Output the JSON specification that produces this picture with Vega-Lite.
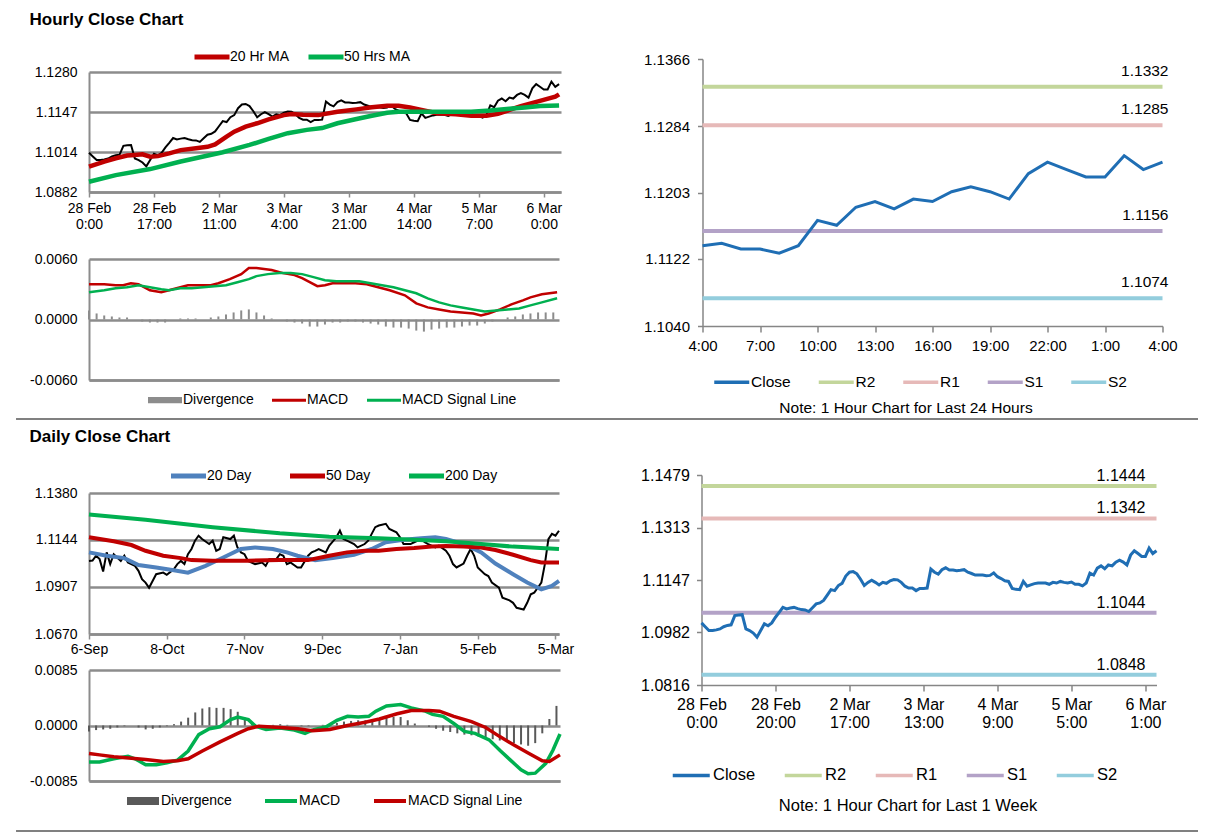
{
"$schema":"https://vega.github.io/schema/vega-lite/v6.json",
"padding":{"left":15,"top":11,"right":5,"bottom":0},
"background":"white",
"config":{"view":{"stroke":null},"font":"Liberation Sans","text":{"font":"Liberation Sans"},
"locale":{"number":{"decimal":".","thousands":",","grouping":[3],"currency":["$",""],"minus":"-"}},
"axis":{"labelFont":"Liberation Sans","labelColor":"#000000"},
"legend":{"labelFont":"Liberation Sans","labelColor":"#000000","titleFont":"Liberation Sans","padding":0,"titleLimit":600,"labelLimit":300},
"title":{"font":"Liberation Sans"}},
"datasets":{
"hc":[{"i":0,"c":1.1012},{"i":1,"c":1.1000},{"i":2,"c":1.0988},{"i":3,"c":1.0988},{"i":4,"c":1.0990},{"i":5,"c":1.0993},{"i":6,"c":1.1000},{"i":7,"c":1.1004},{"i":8,"c":1.1006},{"i":9,"c":1.1035},{"i":10,"c":1.1037},{"i":11,"c":1.1038},{"i":12,"c":1.0993},{"i":13,"c":1.0988},{"i":14,"c":1.0980},{"i":15,"c":1.0967},{"i":16,"c":1.0988},{"i":17,"c":1.1009},{"i":18,"c":1.1003},{"i":19,"c":1.1012},{"i":20,"c":1.1030},{"i":21,"c":1.1045},{"i":22,"c":1.1061},{"i":23,"c":1.1056},{"i":24,"c":1.1059},{"i":25,"c":1.1061},{"i":26,"c":1.1057},{"i":27,"c":1.1054},{"i":28,"c":1.1053},{"i":29,"c":1.1048},{"i":30,"c":1.1060},{"i":31,"c":1.1072},{"i":32,"c":1.1075},{"i":33,"c":1.1083},{"i":34,"c":1.1100},{"i":35,"c":1.1117},{"i":36,"c":1.1114},{"i":37,"c":1.1130},{"i":38,"c":1.1137},{"i":39,"c":1.1160},{"i":40,"c":1.1172},{"i":41,"c":1.1174},{"i":42,"c":1.1167},{"i":43,"c":1.1150},{"i":44,"c":1.1130},{"i":45,"c":1.1140},{"i":46,"c":1.1147},{"i":47,"c":1.1140},{"i":48,"c":1.1132},{"i":49,"c":1.1140},{"i":50,"c":1.1137},{"i":51,"c":1.1145},{"i":52,"c":1.1149},{"i":53,"c":1.1148},{"i":54,"c":1.1140},{"i":55,"c":1.1128},{"i":56,"c":1.1122},{"i":57,"c":1.1122},{"i":58,"c":1.1114},{"i":59,"c":1.1121},{"i":60,"c":1.1121},{"i":61,"c":1.1122},{"i":62,"c":1.1182},{"i":63,"c":1.1172},{"i":64,"c":1.1166},{"i":65,"c":1.1180},{"i":66,"c":1.1186},{"i":67,"c":1.1179},{"i":68,"c":1.1179},{"i":69,"c":1.1177},{"i":70,"c":1.1178},{"i":71,"c":1.1180},{"i":72,"c":1.1172},{"i":73,"c":1.1168},{"i":74,"c":1.1163},{"i":75,"c":1.1163},{"i":76,"c":1.1163},{"i":77,"c":1.1161},{"i":78,"c":1.1162},{"i":79,"c":1.1170},{"i":80,"c":1.1158},{"i":81,"c":1.1152},{"i":82,"c":1.1145},{"i":83,"c":1.1143},{"i":84,"c":1.1121},{"i":85,"c":1.1118},{"i":86,"c":1.1117},{"i":87,"c":1.1143},{"i":88,"c":1.1128},{"i":89,"c":1.1132},{"i":90,"c":1.1136},{"i":91,"c":1.1138},{"i":92,"c":1.1138},{"i":93,"c":1.1138},{"i":94,"c":1.1134},{"i":95,"c":1.1140},{"i":96,"c":1.1138},{"i":97,"c":1.1143},{"i":98,"c":1.1140},{"i":99,"c":1.1138},{"i":100,"c":1.1141},{"i":101,"c":1.1134},{"i":102,"c":1.1134},{"i":103,"c":1.1129},{"i":104,"c":1.1138},{"i":105,"c":1.1169},{"i":106,"c":1.1163},{"i":107,"c":1.1185},{"i":108,"c":1.1192},{"i":109,"c":1.1183},{"i":110,"c":1.1195},{"i":111,"c":1.1192},{"i":112,"c":1.1204},{"i":113,"c":1.1210},{"i":114,"c":1.1204},{"i":115,"c":1.1195},{"i":116,"c":1.1226},{"i":117,"c":1.1240},{"i":118,"c":1.1231},{"i":119,"c":1.1222},{"i":120,"c":1.1222},{"i":121,"c":1.1248},{"i":122,"c":1.1231},{"i":123,"c":1.1240}],
"hma":[{"i":0,"s":"20 Hr MA","v":1.0966},{"i":4,"s":"20 Hr MA","v":1.0983},{"i":7,"s":"20 Hr MA","v":1.0994},{"i":10,"s":"20 Hr MA","v":1.1003},{"i":12,"s":"20 Hr MA","v":1.1005},{"i":14,"s":"20 Hr MA","v":1.1007},{"i":16,"s":"20 Hr MA","v":1.0999},{"i":18,"s":"20 Hr MA","v":1.1001},{"i":21,"s":"20 Hr MA","v":1.1010},{"i":24,"s":"20 Hr MA","v":1.1021},{"i":28,"s":"20 Hr MA","v":1.1027},{"i":31,"s":"20 Hr MA","v":1.1032},{"i":33,"s":"20 Hr MA","v":1.1040},{"i":36,"s":"20 Hr MA","v":1.1066},{"i":38,"s":"20 Hr MA","v":1.1082},{"i":41,"s":"20 Hr MA","v":1.1099},{"i":44,"s":"20 Hr MA","v":1.1110},{"i":47,"s":"20 Hr MA","v":1.1123},{"i":51,"s":"20 Hr MA","v":1.1137},{"i":53,"s":"20 Hr MA","v":1.1141},{"i":56,"s":"20 Hr MA","v":1.1138},{"i":60,"s":"20 Hr MA","v":1.1137},{"i":65,"s":"20 Hr MA","v":1.1148},{"i":70,"s":"20 Hr MA","v":1.1156},{"i":74,"s":"20 Hr MA","v":1.1163},{"i":78,"s":"20 Hr MA","v":1.1168},{"i":81,"s":"20 Hr MA","v":1.1168},{"i":84,"s":"20 Hr MA","v":1.1162},{"i":87,"s":"20 Hr MA","v":1.1154},{"i":91,"s":"20 Hr MA","v":1.1143},{"i":96,"s":"20 Hr MA","v":1.1140},{"i":100,"s":"20 Hr MA","v":1.1135},{"i":104,"s":"20 Hr MA","v":1.1135},{"i":107,"s":"20 Hr MA","v":1.1141},{"i":110,"s":"20 Hr MA","v":1.1154},{"i":113,"s":"20 Hr MA","v":1.1167},{"i":118,"s":"20 Hr MA","v":1.1184},{"i":122,"s":"20 Hr MA","v":1.1198},{"i":123,"s":"20 Hr MA","v":1.1206},
{"i":0,"s":"50 Hrs MA","v":1.0916},{"i":7,"s":"50 Hrs MA","v":1.0938},{"i":16,"s":"50 Hrs MA","v":1.0958},{"i":24,"s":"50 Hrs MA","v":1.0983},{"i":35,"s":"50 Hrs MA","v":1.1014},{"i":42,"s":"50 Hrs MA","v":1.1038},{"i":47,"s":"50 Hrs MA","v":1.1058},{"i":52,"s":"50 Hrs MA","v":1.1077},{"i":57,"s":"50 Hrs MA","v":1.1088},{"i":61,"s":"50 Hrs MA","v":1.1094},{"i":65,"s":"50 Hrs MA","v":1.1110},{"i":70,"s":"50 Hrs MA","v":1.1124},{"i":74,"s":"50 Hrs MA","v":1.1135},{"i":78,"s":"50 Hrs MA","v":1.1145},{"i":81,"s":"50 Hrs MA","v":1.1148},{"i":90,"s":"50 Hrs MA","v":1.1148},{"i":100,"s":"50 Hrs MA","v":1.1148},{"i":105,"s":"50 Hrs MA","v":1.1152},{"i":110,"s":"50 Hrs MA","v":1.1158},{"i":114,"s":"50 Hrs MA","v":1.1162},{"i":118,"s":"50 Hrs MA","v":1.1167},{"i":123,"s":"50 Hrs MA","v":1.1169}],
"hmacd":[{"i":0,"s":"MACD","v":0.0035},{"i":4,"s":"MACD","v":0.0035},{"i":7,"s":"MACD","v":0.0034},{"i":9,"s":"MACD","v":0.0034},{"i":11,"s":"MACD","v":0.0036},{"i":13,"s":"MACD","v":0.0035},{"i":16,"s":"MACD","v":0.0029},{"i":19,"s":"MACD","v":0.0027},{"i":21,"s":"MACD","v":0.0029},{"i":24,"s":"MACD","v":0.0032},{"i":26,"s":"MACD","v":0.0034},{"i":29,"s":"MACD","v":0.0034},{"i":32,"s":"MACD","v":0.0034},{"i":34,"s":"MACD","v":0.0036},{"i":37,"s":"MACD","v":0.0040},{"i":40,"s":"MACD","v":0.0045},{"i":42,"s":"MACD","v":0.0051},{"i":44,"s":"MACD","v":0.0051},{"i":46,"s":"MACD","v":0.0050},{"i":48,"s":"MACD","v":0.0049},{"i":51,"s":"MACD","v":0.0046},{"i":54,"s":"MACD","v":0.0044},{"i":56,"s":"MACD","v":0.0041},{"i":58,"s":"MACD","v":0.0037},{"i":60,"s":"MACD","v":0.0033},{"i":62,"s":"MACD","v":0.0034},{"i":64,"s":"MACD","v":0.0036},{"i":67,"s":"MACD","v":0.0036},{"i":70,"s":"MACD","v":0.0036},{"i":73,"s":"MACD","v":0.0035},{"i":76,"s":"MACD","v":0.0032},{"i":79,"s":"MACD","v":0.0029},{"i":83,"s":"MACD","v":0.0024},{"i":86,"s":"MACD","v":0.0016},{"i":89,"s":"MACD","v":0.0012},{"i":92,"s":"MACD","v":0.0010},{"i":95,"s":"MACD","v":0.0008},{"i":98,"s":"MACD","v":0.0007},{"i":101,"s":"MACD","v":0.0006},{"i":103,"s":"MACD","v":0.0004},{"i":105,"s":"MACD","v":0.0006},{"i":108,"s":"MACD","v":0.0010},{"i":111,"s":"MACD","v":0.0015},{"i":114,"s":"MACD","v":0.0019},{"i":116,"s":"MACD","v":0.0022},{"i":119,"s":"MACD","v":0.0025},{"i":123,"s":"MACD","v":0.0027},
{"i":0,"s":"MACD Signal Line","v":0.0027},{"i":4,"s":"MACD Signal Line","v":0.0029},{"i":7,"s":"MACD Signal Line","v":0.0031},{"i":10,"s":"MACD Signal Line","v":0.0032},{"i":13,"s":"MACD Signal Line","v":0.0034},{"i":16,"s":"MACD Signal Line","v":0.0032},{"i":19,"s":"MACD Signal Line","v":0.0030},{"i":21,"s":"MACD Signal Line","v":0.0029},{"i":24,"s":"MACD Signal Line","v":0.0031},{"i":27,"s":"MACD Signal Line","v":0.0031},{"i":30,"s":"MACD Signal Line","v":0.0032},{"i":33,"s":"MACD Signal Line","v":0.0033},{"i":36,"s":"MACD Signal Line","v":0.0034},{"i":39,"s":"MACD Signal Line","v":0.0037},{"i":42,"s":"MACD Signal Line","v":0.0040},{"i":44,"s":"MACD Signal Line","v":0.0043},{"i":47,"s":"MACD Signal Line","v":0.0045},{"i":50,"s":"MACD Signal Line","v":0.0046},{"i":53,"s":"MACD Signal Line","v":0.0046},{"i":56,"s":"MACD Signal Line","v":0.0045},{"i":59,"s":"MACD Signal Line","v":0.0042},{"i":62,"s":"MACD Signal Line","v":0.0039},{"i":65,"s":"MACD Signal Line","v":0.0038},{"i":68,"s":"MACD Signal Line","v":0.0038},{"i":71,"s":"MACD Signal Line","v":0.0038},{"i":74,"s":"MACD Signal Line","v":0.0036},{"i":77,"s":"MACD Signal Line","v":0.0034},{"i":80,"s":"MACD Signal Line","v":0.0032},{"i":83,"s":"MACD Signal Line","v":0.0029},{"i":86,"s":"MACD Signal Line","v":0.0026},{"i":89,"s":"MACD Signal Line","v":0.0021},{"i":92,"s":"MACD Signal Line","v":0.0017},{"i":95,"s":"MACD Signal Line","v":0.0014},{"i":98,"s":"MACD Signal Line","v":0.0012},{"i":101,"s":"MACD Signal Line","v":0.0010},{"i":104,"s":"MACD Signal Line","v":0.0008},{"i":107,"s":"MACD Signal Line","v":0.0009},{"i":110,"s":"MACD Signal Line","v":0.0010},{"i":113,"s":"MACD Signal Line","v":0.0011},{"i":116,"s":"MACD Signal Line","v":0.0014},{"i":119,"s":"MACD Signal Line","v":0.0017},{"i":123,"s":"MACD Signal Line","v":0.0021}],
"hdiv":[{"i":0,"d":0.0009},{"i":2,"d":0.0006},{"i":4,"d":0.0004},{"i":6,"d":0.0003},{"i":8,"d":0.0002},{"i":10,"d":0.0002},{"i":12,"d":0.0},{"i":14,"d":-0.0002},{"i":16,"d":-0.0003},{"i":18,"d":-0.0003},{"i":20,"d":-0.0003},{"i":22,"d":0.0},{"i":24,"d":0.0001},{"i":26,"d":0.0001},{"i":28,"d":0.0001},{"i":30,"d":0.0},{"i":32,"d":0.0002},{"i":34,"d":0.0003},{"i":36,"d":0.0005},{"i":38,"d":0.0007},{"i":40,"d":0.0009},{"i":42,"d":0.0010},{"i":44,"d":0.0007},{"i":46,"d":0.0004},{"i":48,"d":0.0001},{"i":50,"d":0.0},{"i":52,"d":-0.0002},{"i":54,"d":-0.0003},{"i":56,"d":-0.0004},{"i":58,"d":-0.0007},{"i":60,"d":-0.0007},{"i":62,"d":-0.0005},{"i":64,"d":-0.0003},{"i":66,"d":-0.0003},{"i":68,"d":-0.0002},{"i":70,"d":-0.0002},{"i":72,"d":-0.0003},{"i":74,"d":-0.0004},{"i":76,"d":-0.0005},{"i":78,"d":-0.0007},{"i":80,"d":-0.0008},{"i":82,"d":-0.0008},{"i":84,"d":-0.0009},{"i":86,"d":-0.0011},{"i":88,"d":-0.0012},{"i":90,"d":-0.0010},{"i":92,"d":-0.0009},{"i":94,"d":-0.0008},{"i":96,"d":-0.0008},{"i":98,"d":-0.0007},{"i":100,"d":-0.0006},{"i":102,"d":-0.0006},{"i":104,"d":-0.0004},{"i":106,"d":-0.0002},{"i":108,"d":0.0},{"i":110,"d":0.0002},{"i":112,"d":0.0003},{"i":114,"d":0.0005},{"i":116,"d":0.0006},{"i":118,"d":0.0007},{"i":120,"d":0.0007},{"i":122,"d":0.0007}],
"lv24":[{"s":"R2","v":1.1332},{"s":"R1","v":1.1285},{"s":"S1","v":1.1156},{"s":"S2","v":1.1074}],
"lvwk":[{"s":"R2","v":1.1444},{"s":"R1","v":1.1342},{"s":"S1","v":1.1044},{"s":"S2","v":1.0848}],
"dc":[{"d":0,"c":1.1038},{"d":1,"c":1.1040},{"d":2,"c":1.1064},{"d":3,"c":1.1047},{"d":4,"c":1.0985},{"d":5,"c":1.1081},{"d":6,"c":1.1022},{"d":7,"c":1.1072},{"d":9,"c":1.1038},{"d":10,"c":1.1064},{"d":11,"c":1.1030},{"d":13,"c":1.1013},{"d":14,"c":1.0988},{"d":15,"c":1.0946},{"d":16,"c":1.0929},{"d":17,"c":1.0903},{"d":18,"c":1.0937},{"d":19,"c":1.0971},{"d":21,"c":1.0979},{"d":22,"c":1.0968},{"d":24,"c":1.0996},{"d":25,"c":1.1022},{"d":26,"c":1.1038},{"d":27,"c":1.1022},{"d":28,"c":1.1072},{"d":29,"c":1.1098},{"d":30,"c":1.1140},{"d":31,"c":1.1165},{"d":32,"c":1.1148},{"d":34,"c":1.1123},{"d":35,"c":1.1140},{"d":36,"c":1.1089},{"d":37,"c":1.1098},{"d":38,"c":1.1157},{"d":40,"c":1.1148},{"d":41,"c":1.1165},{"d":42,"c":1.1106},{"d":43,"c":1.1081},{"d":44,"c":1.1072},{"d":45,"c":1.1038},{"d":46,"c":1.1030},{"d":47,"c":1.1022},{"d":49,"c":1.1030},{"d":50,"c":1.1013},{"d":51,"c":1.1047},{"d":53,"c":1.1047},{"d":54,"c":1.1072},{"d":55,"c":1.1064},{"d":56,"c":1.1022},{"d":57,"c":1.1030},{"d":59,"c":1.1005},{"d":60,"c":1.1005},{"d":62,"c":1.1064},{"d":63,"c":1.1081},{"d":64,"c":1.1089},{"d":65,"c":1.1098},{"d":67,"c":1.1081},{"d":68,"c":1.1115},{"d":70,"c":1.1157},{"d":71,"c":1.1191},{"d":72,"c":1.1148},{"d":73,"c":1.1140},{"d":75,"c":1.1123},{"d":76,"c":1.1106},{"d":78,"c":1.1123},{"d":79,"c":1.1140},{"d":80,"c":1.1174},{"d":81,"c":1.1208},{"d":82,"c":1.1216},{"d":84,"c":1.1225},{"d":85,"c":1.1199},{"d":87,"c":1.1182},{"d":88,"c":1.1157},{"d":89,"c":1.1123},{"d":91,"c":1.1123},{"d":92,"c":1.1132},{"d":94,"c":1.1148},{"d":95,"c":1.1132},{"d":96,"c":1.1123},{"d":98,"c":1.1106},{"d":99,"c":1.1115},{"d":101,"c":1.1089},{"d":102,"c":1.1064},{"d":103,"c":1.1022},{"d":104,"c":1.1005},{"d":106,"c":1.1025},{"d":107,"c":1.1064},{"d":108,"c":1.1098},{"d":109,"c":1.1064},{"d":110,"c":1.1005},{"d":112,"c":1.0971},{"d":113,"c":1.0962},{"d":114,"c":1.0929},{"d":116,"c":1.0903},{"d":117,"c":1.0853},{"d":119,"c":1.0839},{"d":120,"c":1.0827},{"d":121,"c":1.0802},{"d":123,"c":1.0793},{"d":124,"c":1.0827},{"d":125,"c":1.0870},{"d":126,"c":1.0878},{"d":127,"c":1.0903},{"d":128,"c":1.0929},{"d":129,"c":1.1022},{"d":130,"c":1.1148},{"d":131,"c":1.1174},{"d":132,"c":1.1165},{"d":133,"c":1.1190}],
"dma":[{"d":0,"s":"20 Day","v":1.1081},{"d":5,"s":"20 Day","v":1.1064},{"d":10,"s":"20 Day","v":1.1052},{"d":14,"s":"20 Day","v":1.1017},{"d":19,"s":"20 Day","v":1.1005},{"d":24,"s":"20 Day","v":1.0991},{"d":28,"s":"20 Day","v":1.0979},{"d":33,"s":"20 Day","v":1.1013},{"d":38,"s":"20 Day","v":1.1055},{"d":43,"s":"20 Day","v":1.1098},{"d":47,"s":"20 Day","v":1.1106},{"d":52,"s":"20 Day","v":1.1098},{"d":56,"s":"20 Day","v":1.1081},{"d":59,"s":"20 Day","v":1.1064},{"d":64,"s":"20 Day","v":1.1042},{"d":69,"s":"20 Day","v":1.1052},{"d":75,"s":"20 Day","v":1.1069},{"d":80,"s":"20 Day","v":1.1098},{"d":84,"s":"20 Day","v":1.1132},{"d":89,"s":"20 Day","v":1.1145},{"d":94,"s":"20 Day","v":1.1152},{"d":98,"s":"20 Day","v":1.1157},{"d":101,"s":"20 Day","v":1.1148},{"d":106,"s":"20 Day","v":1.1123},{"d":111,"s":"20 Day","v":1.1081},{"d":115,"s":"20 Day","v":1.1025},{"d":120,"s":"20 Day","v":1.0971},{"d":124,"s":"20 Day","v":1.0929},{"d":128,"s":"20 Day","v":1.0895},{"d":131,"s":"20 Day","v":1.0912},{"d":133,"s":"20 Day","v":1.0937},
{"d":0,"s":"50 Day","v":1.1157},{"d":7,"s":"50 Day","v":1.1137},{"d":12,"s":"50 Day","v":1.1118},{"d":16,"s":"50 Day","v":1.1089},{"d":21,"s":"50 Day","v":1.1064},{"d":26,"s":"50 Day","v":1.1052},{"d":29,"s":"50 Day","v":1.1042},{"d":35,"s":"50 Day","v":1.1039},{"d":45,"s":"50 Day","v":1.1039},{"d":54,"s":"50 Day","v":1.1042},{"d":62,"s":"50 Day","v":1.1042},{"d":68,"s":"50 Day","v":1.1064},{"d":73,"s":"50 Day","v":1.1081},{"d":78,"s":"50 Day","v":1.1089},{"d":82,"s":"50 Day","v":1.1089},{"d":87,"s":"50 Day","v":1.1098},{"d":92,"s":"50 Day","v":1.1103},{"d":97,"s":"50 Day","v":1.1110},{"d":101,"s":"50 Day","v":1.1113},{"d":106,"s":"50 Day","v":1.1110},{"d":111,"s":"50 Day","v":1.1106},{"d":115,"s":"50 Day","v":1.1093},{"d":120,"s":"50 Day","v":1.1069},{"d":125,"s":"50 Day","v":1.1042},{"d":128,"s":"50 Day","v":1.1030},{"d":133,"s":"50 Day","v":1.1030},
{"d":0,"s":"200 Day","v":1.1272},{"d":16,"s":"200 Day","v":1.1245},{"d":35,"s":"200 Day","v":1.1208},{"d":54,"s":"200 Day","v":1.1177},{"d":68,"s":"200 Day","v":1.1160},{"d":82,"s":"200 Day","v":1.1152},{"d":92,"s":"200 Day","v":1.1145},{"d":101,"s":"200 Day","v":1.1137},{"d":111,"s":"200 Day","v":1.1123},{"d":120,"s":"200 Day","v":1.1110},{"d":133,"s":"200 Day","v":1.1098}],
"dmacd":[{"d":0,"s":"MACD","v":-0.0056},{"d":3,"s":"MACD","v":-0.0056},{"d":7,"s":"MACD","v":-0.0051},{"d":11,"s":"MACD","v":-0.0047},{"d":13,"s":"MACD","v":-0.0051},{"d":16,"s":"MACD","v":-0.0060},{"d":19,"s":"MACD","v":-0.0060},{"d":22,"s":"MACD","v":-0.0057},{"d":25,"s":"MACD","v":-0.0053},{"d":28,"s":"MACD","v":-0.0039},{"d":31,"s":"MACD","v":-0.0014},{"d":34,"s":"MACD","v":-0.0005},{"d":37,"s":"MACD","v":-0.0002},{"d":40,"s":"MACD","v":0.0009},{"d":42,"s":"MACD","v":0.0013},{"d":45,"s":"MACD","v":0.0009},{"d":47,"s":"MACD","v":-0.0001},{"d":50,"s":"MACD","v":-0.0006},{"d":54,"s":"MACD","v":-0.0004},{"d":58,"s":"MACD","v":-0.0007},{"d":61,"s":"MACD","v":-0.0012},{"d":63,"s":"MACD","v":-0.0007},{"d":67,"s":"MACD","v":-0.0002},{"d":70,"s":"MACD","v":0.0008},{"d":73,"s":"MACD","v":0.0014},{"d":76,"s":"MACD","v":0.0013},{"d":79,"s":"MACD","v":0.0014},{"d":81,"s":"MACD","v":0.0022},{"d":84,"s":"MACD","v":0.0030},{"d":88,"s":"MACD","v":0.0032},{"d":91,"s":"MACD","v":0.0027},{"d":95,"s":"MACD","v":0.0022},{"d":97,"s":"MACD","v":0.0017},{"d":100,"s":"MACD","v":0.0014},{"d":103,"s":"MACD","v":0.0003},{"d":106,"s":"MACD","v":-0.0009},{"d":109,"s":"MACD","v":-0.0012},{"d":113,"s":"MACD","v":-0.0022},{"d":116,"s":"MACD","v":-0.0038},{"d":119,"s":"MACD","v":-0.0053},{"d":122,"s":"MACD","v":-0.0068},{"d":124,"s":"MACD","v":-0.0074},{"d":126,"s":"MACD","v":-0.0073},{"d":129,"s":"MACD","v":-0.0058},{"d":131,"s":"MACD","v":-0.0038},{"d":133,"s":"MACD","v":-0.0013},
{"d":0,"s":"MACD Signal Line","v":-0.0043},{"d":3,"s":"MACD Signal Line","v":-0.0045},{"d":7,"s":"MACD Signal Line","v":-0.0048},{"d":12,"s":"MACD Signal Line","v":-0.0050},{"d":16,"s":"MACD Signal Line","v":-0.0052},{"d":21,"s":"MACD Signal Line","v":-0.0055},{"d":25,"s":"MACD Signal Line","v":-0.0054},{"d":28,"s":"MACD Signal Line","v":-0.0051},{"d":32,"s":"MACD Signal Line","v":-0.0039},{"d":37,"s":"MACD Signal Line","v":-0.0025},{"d":42,"s":"MACD Signal Line","v":-0.0012},{"d":45,"s":"MACD Signal Line","v":-0.0005},{"d":48,"s":"MACD Signal Line","v":-0.0001},{"d":54,"s":"MACD Signal Line","v":-0.0003},{"d":59,"s":"MACD Signal Line","v":-0.0005},{"d":63,"s":"MACD Signal Line","v":-0.0008},{"d":68,"s":"MACD Signal Line","v":-0.0006},{"d":73,"s":"MACD Signal Line","v":0.0},{"d":78,"s":"MACD Signal Line","v":0.0005},{"d":82,"s":"MACD Signal Line","v":0.0010},{"d":87,"s":"MACD Signal Line","v":0.0018},{"d":91,"s":"MACD Signal Line","v":0.0023},{"d":96,"s":"MACD Signal Line","v":0.0023},{"d":99,"s":"MACD Signal Line","v":0.0022},{"d":103,"s":"MACD Signal Line","v":0.0014},{"d":108,"s":"MACD Signal Line","v":0.0006},{"d":112,"s":"MACD Signal Line","v":-0.0003},{"d":116,"s":"MACD Signal Line","v":-0.0017},{"d":120,"s":"MACD Signal Line","v":-0.0030},{"d":124,"s":"MACD Signal Line","v":-0.0042},{"d":128,"s":"MACD Signal Line","v":-0.0054},{"d":130,"s":"MACD Signal Line","v":-0.0055},{"d":133,"s":"MACD Signal Line","v":-0.0045}],
"ddiv":[{"d":0,"v":-0.0009},{"d":2,"v":-0.0007},{"d":4,"v":-0.0006},{"d":6,"v":-0.0005},{"d":8,"v":-0.0003},{"d":10,"v":-0.0001},{"d":12,"v":0.0},{"d":14,"v":-0.0003},{"d":16,"v":-0.0006},{"d":18,"v":-0.0005},{"d":20,"v":-0.0003},{"d":22,"v":-0.0001},{"d":24,"v":0.0002},{"d":26,"v":0.0006},{"d":28,"v":0.0012},{"d":30,"v":0.0020},{"d":32,"v":0.0026},{"d":34,"v":0.0028},{"d":36,"v":0.0027},{"d":38,"v":0.0027},{"d":40,"v":0.0025},{"d":42,"v":0.0021},{"d":44,"v":0.0012},{"d":46,"v":0.0005},{"d":48,"v":0.0001},{"d":50,"v":0.0},{"d":52,"v":0.0001},{"d":54,"v":0.0002},{"d":56,"v":0.0001},{"d":58,"v":0.0},{"d":60,"v":-0.0001},{"d":62,"v":-0.0001},{"d":64,"v":0.0},{"d":66,"v":0.0001},{"d":68,"v":0.0002},{"d":70,"v":0.0004},{"d":72,"v":0.0006},{"d":74,"v":0.0007},{"d":76,"v":0.0008},{"d":78,"v":0.0008},{"d":80,"v":0.0009},{"d":82,"v":0.0010},{"d":84,"v":0.0012},{"d":86,"v":0.0013},{"d":88,"v":0.0013},{"d":90,"v":0.0008},{"d":92,"v":0.0003},{"d":94,"v":0.0},{"d":96,"v":-0.0002},{"d":98,"v":-0.0005},{"d":100,"v":-0.0008},{"d":102,"v":-0.0010},{"d":104,"v":-0.0012},{"d":106,"v":-0.0014},{"d":108,"v":-0.0015},{"d":110,"v":-0.0017},{"d":112,"v":-0.0019},{"d":114,"v":-0.0021},{"d":116,"v":-0.0023},{"d":118,"v":-0.0025},{"d":120,"v":-0.0027},{"d":122,"v":-0.0029},{"d":124,"v":-0.0031},{"d":126,"v":-0.0027},{"d":128,"v":-0.0012},{"d":130,"v":0.0010},{"d":132,"v":0.0030}]
},
"spacing":0,
"resolve":{"scale":{"x":"independent","y":"independent","color":"independent"}},
"vconcat":[
{"title":{"text":"Hourly Close Chart","anchor":"start","fontSize":17,"fontWeight":"bold","color":"#000000","offset":8,"baseline":"alphabetic"},
 "spacing":74.5,
 "resolve":{"scale":{"x":"independent","y":"independent","color":"independent"}},
 "hconcat":[
 {"bounds":"flush","spacing":0,
  "resolve":{"scale":{"x":"independent","y":"independent","color":"independent"}},
  "vconcat":[
  {"width":472,"height":13,"data":{"values":[]},"mark":{"type":"point","opacity":0},"encoding":{}},
  {"width":472,"height":120,
   "layer":[
    {"data":{"name":"hc"},"mark":{"type":"line","color":"#000000","strokeWidth":2},
     "encoding":{
      "x":{"field":"i","type":"quantitative","scale":{"domain":[0,123.5],"nice":false,"zero":false},
       "axis":{"title":null,"values":[0,17,34,51,68,85,102,119],"tickCount":30,"labelExpr":"[['28 Feb','0:00'],['28 Feb','17:00'],['2 Mar','11:00'],['3 Mar','4:00'],['3 Mar','21:00'],['4 Mar','14:00'],['5 Mar','7:00'],['6 Mar','0:00']][round(datum.value/17)]","grid":false,"labelFlush":false,"labelOverlap":false,"labelFontSize":14,"labelLineHeight":16,"labelPadding":4,"domainColor":"#8c8c8c","domainWidth":2.5,"tickColor":"#8c8c8c","tickWidth":1.5,"tickSize":5}},
      "y":{"field":"c","type":"quantitative","scale":{"domain":[1.0882,1.128],"nice":false,"zero":false},
       "axis":{"title":null,"values":[1.0882,1.1014,1.1147,1.128],"tickCount":30,"format":".4f","grid":true,"gridColor":"#8c8c8c","gridWidth":2.5,"domainColor":"#8c8c8c","domainWidth":2,"ticks":false,"labelPadding":12,"labelFontSize":14}}}},
    {"data":{"name":"hma"},"mark":{"type":"line","strokeWidth":4.5},
     "encoding":{"x":{"field":"i","type":"quantitative"},"y":{"field":"v","type":"quantitative"},
      "color":{"field":"s","type":"nominal","title":null,"scale":{"domain":["20 Hr MA","50 Hrs MA"],"range":["#c00000","#00b050"]},
       "legend":{"orient":"none","legendX":116,"legendY":-22,"direction":"horizontal","title":null,"symbolType":"M-4.375,0H4.375","symbolSize":64,"symbolStrokeWidth":5,"labelFontSize":14,"labelOffset":11,"columnPadding":8}}}}
   ]},
  {"width":472,"height":67,"data":{"values":[]},"mark":{"type":"point","opacity":0},"encoding":{}},
  {"width":470,"height":121,
   "layer":[
    {"data":{"name":"hdiv"},"mark":{"type":"rule","strokeWidth":2},
     "encoding":{
      "x":{"field":"i","type":"quantitative","scale":{"domain":[0,123.5],"nice":false,"zero":false},"axis":{"title":null,"labels":false,"ticks":false,"grid":false,"domainColor":"#8c8c8c","domainWidth":2.5}},
      "y":{"field":"d","type":"quantitative","scale":{"domain":[-0.006,0.006],"nice":false,"zero":false},"axis":{"title":null,"values":[-0.006,0,0.006],"tickCount":30,"format":".4f","grid":true,"gridColor":"#8c8c8c","gridWidth":2.5,"domainColor":"#8c8c8c","domainWidth":2,"ticks":false,"labelPadding":12,"labelFontSize":14}},
      "y2":{"datum":0},
      "color":{"datum":"Divergence","type":"nominal","title":null,"scale":{"domain":["Divergence","MACD","MACD Signal Line"],"range":["#8c8c8c","#c00000","#00b050"]},
       "legend":{"orient":"none","legendX":69,"legendY":134,"direction":"horizontal","title":null,"symbolType":"M-4.25,-0.4H-4.25M-4.25,0H4.25M-4.25,0.4H-4.25","symbolSize":64,"symbolStrokeWidth":3,"labelFontSize":14,"labelOffset":11,"columnPadding":12,"encode":{"symbols":{"update":{"shape":{"signal":"datum.value === 'Divergence' ? 'M-4.25,-0.4H4.25M-4.25,-0.2H4.25M-4.25,0H4.25M-4.25,0.2H4.25M-4.25,0.4H4.25' : 'M-4.25,-0.4H-4.25M-4.25,0H4.25M-4.25,0.4H-4.25'"}}}}}}}},
    {"data":{"name":"hmacd"},"mark":{"type":"line","strokeWidth":2.5},
     "encoding":{"x":{"field":"i","type":"quantitative"},"y":{"field":"v","type":"quantitative"},"color":{"field":"s","type":"nominal","title":null}}}
   ]}
 ]},
 {"width":460,"height":267,
  "layer":[
   {"data":{"name":"lv24"},"mark":{"type":"rule","strokeWidth":4},
    "encoding":{
     "y":{"field":"v","type":"quantitative","scale":{"domain":[1.104,1.1366],"nice":false,"zero":false},"axis":{"title":null,"values":[1.104,1.1122,1.1203,1.1284,1.1366],"tickCount":30,"format":".4f","grid":false,"domainColor":"#868686","domainWidth":1.5,"tickColor":"#868686","tickWidth":1.5,"tickSize":5,"labelPadding":8,"labelFontSize":15}},
     "color":{"field":"s","type":"nominal","title":null,"scale":{"domain":["Close","R2","R1","S1","S2"],"range":["#1f6eb4","#c3d69b","#e6b9b8","#b3a2c7","#93cddd"]},
      "legend":{"orient":"none","legendX":21.5,"legendY":315,"direction":"horizontal","title":"Note: 1 Hour Chart for Last 24 Hours","titleOrient":"bottom","titleAnchor":"middle","titleFontSize":15.5,"titleFontWeight":"normal","titleColor":"#000000","titlePadding":10,"symbolType":"M-4.375,0H4.375","symbolSize":64,"symbolStrokeWidth":3.5,"labelFontSize":15.5,"labelOffset":11.5,"columnPadding":20.5,"encode":{"title":{"update":{"dx":{"value":-19}}}}}}}},
   {"data":{"name":"lv24"},"mark":{"type":"text","align":"right","baseline":"alphabetic","dx":6,"dy":-11,"fontSize":15.5,"color":"#000000"},
    "encoding":{"x":{"datum":123,"type":"quantitative"},"y":{"field":"v","type":"quantitative"},"text":{"field":"v","type":"quantitative","format":".4f"}}},
   {"data":{"name":"hc"},"transform":[{"filter":"datum.i >= 99"}],"mark":{"type":"line","strokeWidth":3},
    "encoding":{
     "x":{"field":"i","type":"quantitative","scale":{"domain":[99,123],"nice":false,"zero":false},"axis":{"title":null,"values":[99,102,105,108,111,114,117,120,123],"tickCount":30,"labelExpr":"((datum.value - 95) % 24) + ':00'","grid":false,"labelFlush":false,"labelOverlap":false,"labelFontSize":15,"labelPadding":6,"domainColor":"#868686","domainWidth":1.5,"tickColor":"#868686","tickWidth":1.5,"tickSize":6}},
     "y":{"field":"c","type":"quantitative"},
     "color":{"datum":"Close","type":"nominal","title":null}}}
  ]}
 ]},
{"width":1109,"height":10,"data":{"values":[{}]},"mark":{"type":"rule","color":"#808080","strokeWidth":2},
 "encoding":{"x":{"datum":-0.0658,"type":"quantitative","scale":{"domain":[0,1],"nice":false,"zero":false},"axis":null},"x2":{"datum":1},"y":{"datum":0.9,"type":"quantitative","scale":{"domain":[0,1],"nice":false},"axis":null}}},
{"title":{"text":"Daily Close Chart","anchor":"start","fontSize":17,"fontWeight":"bold","color":"#000000","offset":8,"baseline":"alphabetic"},
 "spacing":66.5,
 "resolve":{"scale":{"x":"independent","y":"independent","color":"independent"}},
 "hconcat":[
 {"bounds":"flush","spacing":0,
  "resolve":{"scale":{"x":"independent","y":"independent","color":"independent"}},
  "vconcat":[
  {"width":471,"height":18,"data":{"values":[]},"mark":{"type":"point","opacity":0},"encoding":{}},
  {"width":470,"height":141,
   "layer":[
    {"data":{"name":"dc"},"mark":{"type":"line","color":"#000000","strokeWidth":2},
     "encoding":{
      "x":{"field":"d","type":"quantitative","scale":{"domain":[0,133],"nice":false,"zero":false},
       "axis":{"title":null,"values":[0,22,44,66,88,110,132],"tickCount":30,"labelExpr":"['6-Sep','8-Oct','7-Nov','9-Dec','7-Jan','5-Feb','5-Mar'][round(datum.value/22)]","grid":false,"labelFlush":false,"labelOverlap":false,"labelFontSize":14,"labelPadding":3,"domainColor":"#8c8c8c","domainWidth":2.5,"tickColor":"#8c8c8c","tickWidth":1.5,"tickSize":5}},
      "y":{"field":"c","type":"quantitative","scale":{"domain":[1.067,1.138],"nice":false,"zero":false},
       "axis":{"title":null,"values":[1.067,1.0907,1.1144,1.138],"tickCount":30,"format":".4f","grid":true,"gridColor":"#8c8c8c","gridWidth":2.5,"domainColor":"#8c8c8c","domainWidth":2,"ticks":false,"labelPadding":12,"labelFontSize":14}}}},
    {"data":{"name":"dma"},"mark":{"type":"line","strokeWidth":4},
     "encoding":{"x":{"field":"d","type":"quantitative"},"y":{"field":"v","type":"quantitative"},
      "color":{"field":"s","type":"nominal","title":null,"scale":{"domain":["20 Day","50 Day","200 Day"],"range":["#4f81bd","#c00000","#00b050"]},
       "legend":{"orient":"none","legendX":92.5,"legendY":-24,"direction":"horizontal","title":null,"symbolType":"M-4.375,0H4.375","symbolSize":64,"symbolStrokeWidth":5,"labelFontSize":14,"labelOffset":11.5,"columnPadding":28}}}}
   ]},
  {"width":471,"height":36,"data":{"values":[]},"mark":{"type":"point","opacity":0},"encoding":{}},
  {"width":471,"height":111,
   "layer":[
    {"data":{"name":"ddiv"},"mark":{"type":"rule","strokeWidth":2},
     "encoding":{
      "x":{"field":"d","type":"quantitative","scale":{"domain":[0,133],"nice":false,"zero":false},"axis":{"title":null,"labels":false,"ticks":false,"grid":false,"domainColor":"#8c8c8c","domainWidth":2.5}},
      "y":{"field":"v","type":"quantitative","scale":{"domain":[-0.0085,0.0085],"nice":false,"zero":false},"axis":{"title":null,"values":[-0.0085,0,0.0085],"tickCount":30,"format":".4f","grid":true,"gridColor":"#8c8c8c","gridWidth":2.5,"domainColor":"#8c8c8c","domainWidth":2,"ticks":false,"labelPadding":12,"labelFontSize":14}},
      "y2":{"datum":0},
      "color":{"datum":"Divergence","type":"nominal","title":null,"scale":{"domain":["Divergence","MACD","MACD Signal Line"],"range":["#595959","#00b050","#c00000"]},
       "legend":{"orient":"none","legendX":47,"legendY":124,"direction":"horizontal","title":null,"symbolType":"M-4,-0.5H-4M-4,0H4M-4,0.5H-4","symbolSize":64,"symbolStrokeWidth":4,"labelFontSize":14,"labelOffset":11,"columnPadding":25,"encode":{"symbols":{"update":{"shape":{"signal":"datum.value === 'Divergence' ? 'M-4,-0.5H4M-4,-0.25H4M-4,0H4M-4,0.25H4M-4,0.5H4' : 'M-4,-0.5H-4M-4,0H4M-4,0.5H-4'"}}}}}}}},
    {"data":{"name":"dmacd"},"mark":{"type":"line","strokeWidth":3.5},
     "encoding":{"x":{"field":"d","type":"quantitative"},"y":{"field":"v","type":"quantitative"},"color":{"field":"s","type":"nominal","title":null}}}
   ]}
 ]},
 {"width":455,"height":210,
  "layer":[
   {"data":{"name":"lvwk"},"mark":{"type":"rule","strokeWidth":4},
    "encoding":{
     "y":{"field":"v","type":"quantitative","scale":{"domain":[1.0816,1.1479],"nice":false,"zero":false},"axis":{"title":null,"values":[1.0816,1.0982,1.1147,1.1313,1.1479],"tickCount":30,"format":".4f","grid":false,"domainColor":"#868686","domainWidth":1.5,"tickColor":"#868686","tickWidth":1.5,"tickSize":5,"labelPadding":7,"labelFontSize":16}},
     "color":{"field":"s","type":"nominal","title":null,"scale":{"domain":["Close","R2","R1","S1","S2"],"range":["#1f6eb4","#c3d69b","#e6b9b8","#b3a2c7","#93cddd"]},
      "legend":{"orient":"none","legendX":-18.5,"legendY":292,"direction":"horizontal","title":"Note: 1 Hour Chart for Last 1 Week","titleOrient":"bottom","titleAnchor":"middle","titleFontSize":16.5,"titleFontWeight":"normal","titleColor":"#000000","titlePadding":14,"symbolType":"M-4.625,0H4.625","symbolSize":64,"symbolStrokeWidth":3.5,"labelFontSize":16.5,"labelOffset":13.5,"columnPadding":21,"encode":{"title":{"update":{"dx":{"value":8}}}}}}}},
   {"data":{"name":"lvwk"},"mark":{"type":"text","align":"right","baseline":"alphabetic","dx":-11,"dy":-5,"fontSize":16,"color":"#000000"},
    "encoding":{"x":{"datum":123,"type":"quantitative"},"y":{"field":"v","type":"quantitative"},"text":{"field":"v","type":"quantitative","format":".4f"}}},
   {"data":{"name":"hc"},"mark":{"type":"line","strokeWidth":3},
    "encoding":{
     "x":{"field":"i","type":"quantitative","scale":{"domain":[0,123],"nice":false,"zero":false},"axis":{"title":null,"values":[0,20,40,60,80,100,120],"tickCount":30,"labelExpr":"[['28 Feb','0:00'],['28 Feb','20:00'],['2 Mar','17:00'],['3 Mar','13:00'],['4 Mar','9:00'],['5 Mar','5:00'],['6 Mar','1:00']][round(datum.value/20)]","grid":false,"labelFlush":false,"labelOverlap":false,"labelFontSize":16,"labelLineHeight":18,"labelPadding":5,"domainColor":"#868686","domainWidth":1.5,"tickColor":"#868686","tickWidth":1.5,"tickSize":6}},
     "y":{"field":"c","type":"quantitative"},
     "color":{"datum":"Close","type":"nominal","title":null}}}
  ]}
 ]},
{"width":1109,"height":16,"data":{"values":[{}]},"mark":{"type":"rule","color":"#808080","strokeWidth":2},
 "encoding":{"x":{"datum":-0.0658,"type":"quantitative","scale":{"domain":[0,1],"nice":false,"zero":false},"axis":null},"x2":{"datum":1},"y":{"datum":0,"type":"quantitative","scale":{"domain":[0,1],"nice":false},"axis":null}}}
]
}
